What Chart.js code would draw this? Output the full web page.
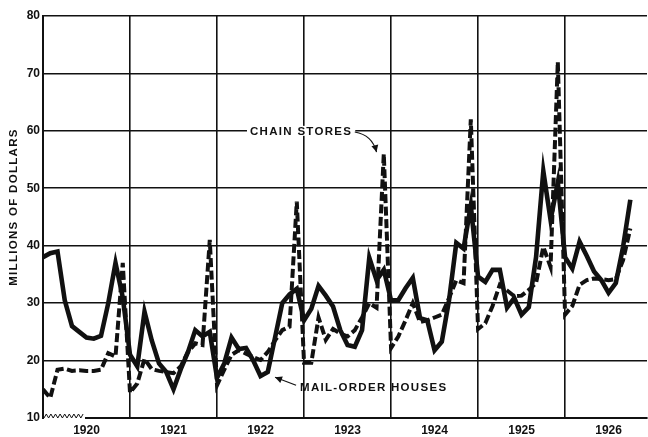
<!DOCTYPE html>
<html>
<head>
<meta charset="utf-8">
<script src="https://cdn.jsdelivr.net/npm/chart.js@4.4.1/dist/chart.umd.min.js"></script>
<style>
  html, body { margin: 0; padding: 0; background: #fff; }
  #wrap { width: 648px; height: 437px; }
</style>
</head>
<body>
<div id="wrap"><canvas id="chart"></canvas></div>
<script>
// Monthly sales, millions of dollars, Jan 1920 .. Oct 1926
const years = ['1920', '1921', '1922', '1923', '1924', '1925', '1926'];

const mailOrder = [
    38, 38.7, 39, 30.5, 26, 25, 24, 23.8, 24.3, 30, 37, 31,          // 1920
    21, 19, 28.5, 23.5, 19.5, 18, 15, 18.5, 21.5, 25.3, 24.2, 25,    // 1921
    17, 19.5, 24, 22, 22.2, 20, 17.3, 18, 24, 30, 31.5, 32.5,        // 1922
    27, 29, 33, 31.3, 29.4, 25.3, 22.7, 22.4, 25.3, 37.9, 34, 35.8,  // 1923
    30.5, 30.5, 32.6, 34.4, 27.4, 27, 21.8, 23.3, 30.5, 40.5, 39.5, 47, // 1924
    34.6, 33.7, 35.8, 35.8, 29.2, 30.9, 28, 29.3, 38, 53, 44.5, 51,  // 1925
    38, 36, 40.7, 38.2, 35.5, 34, 31.8, 33.5, 39.8, 48               // 1926
];

const chainStores = [
    15, 13.5, 18.4, 18.6, 18.2, 18.3, 18.2, 18.2, 18.4, 21.3, 20.7, 37, // 1920
    14.4, 16, 20.3, 18.5, 18.2, 18, 17.8, 19, 21.5, 23, 22.7, 41,      // 1921
    15.7, 18.4, 21, 21.8, 21.2, 20.6, 20.1, 21.5, 23.5, 25.3, 25.9, 47.7, // 1922
    19.6, 19.6, 27.5, 23.6, 25.5, 24.7, 24.2, 25.3, 27.5, 30, 29.2, 56, // 1923
    22.2, 24.2, 27, 30, 26.7, 27, 27.5, 28, 30.9, 34, 33.5, 62,        // 1924
    25.5, 26.5, 29.5, 33.2, 32.2, 31.2, 31.3, 32.3, 33.5, 39.8, 36.3, 72, // 1925
    28, 29.5, 33.2, 34, 34.3, 34.2, 34, 34.2, 37.5, 43                  // 1926
];

const yTicks = [10, 20, 30, 40, 50, 60, 70, 80];
const xTicks = [0, 6, 12, 18, 24, 30, 36, 42, 48, 54, 60, 66, 72, 78];

// label / arrow anchors in data units (month index, value)
const notes = {
    chain: { text: 'CHAIN STORES', x: 35.6, y: 60, from: [43.0, 59.8], ctrl: [45.4, 59.3], to: [46.0, 56.3] },
    mail: { text: 'MAIL-ORDER HOUSES', x: 35.45, y: 15.2, from: [34.9, 15.7], to: [32.0, 17.1] }
};

const INK = '#111';
const labelFont = "bold 11.5px 'Liberation Sans', Arial, sans-serif";

function toPoints(arr) {
    return arr.map((v, i) => ({ x: i, y: v }));
}

function arrowHead(ctx, x0, y0, x1, y1) {
    const a = Math.atan2(y1 - y0, x1 - x0);
    const len = 7, w = 3.5;
    ctx.beginPath();
    ctx.moveTo(x1, y1);
    ctx.lineTo(x1 - len * Math.cos(a) + w * Math.sin(a), y1 - len * Math.sin(a) - w * Math.cos(a));
    ctx.lineTo(x1 - len * Math.cos(a) - w * Math.sin(a), y1 - len * Math.sin(a) + w * Math.cos(a));
    ctx.closePath();
    ctx.fill();
}

const notesPlugin = {
    id: 'notes',
    afterDraw(chart) {
        const ctx = chart.ctx;
        const xs = chart.scales.x, ys = chart.scales.y;
        const area = chart.chartArea;
        const px = v => xs.getPixelForValue(v);
        const py = v => ys.getPixelForValue(v);

        ctx.save();
        ctx.fillStyle = INK;
        ctx.strokeStyle = INK;

        // axis title
        ctx.save();
        ctx.translate(14, (area.top + area.bottom) / 2 - 10);
        ctx.rotate(-Math.PI / 2);
        ctx.font = labelFont;
        ctx.letterSpacing = '1.3px';
        ctx.textAlign = 'center';
        ctx.textBaseline = 'middle';
        ctx.fillText('MILLIONS OF DOLLARS', 0, 0);
        ctx.restore();

        // axis break zigzag at the bottom left
        const zx0 = area.left + 1, zx1 = area.left + 42, zy = area.bottom;
        ctx.fillStyle = '#fff';
        ctx.fillRect(zx0, zy - 2, zx1 - zx0, 4);
        ctx.beginPath();
        ctx.lineWidth = 1;
        let up = true;
        ctx.moveTo(zx0, zy);
        for (let x = zx0 + 2.3; x <= zx1; x += 2.3) {
            ctx.lineTo(x, up ? zy - 4 : zy);
            up = !up;
        }
        ctx.stroke();

        ctx.font = labelFont;
        ctx.letterSpacing = '1.3px';
        ctx.textBaseline = 'middle';

        // chain stores label
        const c = notes.chain;
        const cw = ctx.measureText(c.text).width;
        const cx = px(c.x), cy = py(c.y);
        ctx.fillStyle = '#fff';
        ctx.fillRect(cx - cw / 2 - 3, cy - 5, cw + 6, 10);
        ctx.fillStyle = INK;
        ctx.textAlign = 'center';
        ctx.fillText(c.text, cx, cy + 1);
        ctx.lineWidth = 1.2;
        ctx.beginPath();
        ctx.moveTo(px(c.from[0]), py(c.from[1]));
        ctx.quadraticCurveTo(px(c.ctrl[0]), py(c.ctrl[1]), px(c.to[0]), py(c.to[1]));
        ctx.stroke();
        arrowHead(ctx, px(c.ctrl[0]), py(c.ctrl[1]), px(c.to[0]), py(c.to[1]));

        // mail-order label
        const m = notes.mail;
        ctx.textAlign = 'left';
        ctx.fillText(m.text, px(m.x), py(m.y));
        ctx.beginPath();
        ctx.moveTo(px(m.from[0]), py(m.from[1]));
        ctx.lineTo(px(m.to[0]), py(m.to[1]));
        ctx.stroke();
        arrowHead(ctx, px(m.from[0]), py(m.from[1]), px(m.to[0]), py(m.to[1]));

        ctx.restore();
    }
};

new Chart(document.getElementById('chart'), {
    type: 'line',
    data: {
        datasets: [
            {
                label: 'Mail-order houses',
                data: toPoints(mailOrder),
                borderColor: INK,
                borderWidth: 4.6,
                fill: false
            },
            {
                label: 'Chain stores',
                data: toPoints(chainStores),
                borderColor: INK,
                borderWidth: 4,
                borderDash: [9, 3.5],
                fill: false
            }
        ]
    },
    options: {
        responsive: true,
        maintainAspectRatio: false,
        animation: false,
        devicePixelRatio: 1,
        layout: { padding: { top: 16, right: 1, left: 0, bottom: 0 } },
        elements: {
            point: { radius: 0 },
            line: { tension: 0, borderJoinStyle: 'miter', borderCapStyle: 'butt' }
        },
        plugins: {
            legend: { display: false },
            tooltip: { enabled: false }
        },
        scales: {
            x: {
                type: 'linear',
                min: 0,
                max: 83.3,
                afterBuildTicks: s => { s.ticks = xTicks.map(v => ({ value: v })); },
                afterFit: s => { s.height = 19; },
                grid: {
                    color: ctx => (ctx.tick && ctx.tick.value % 12 === 0) ? INK : 'rgba(0,0,0,0)',
                    lineWidth: 1.6,
                    drawTicks: false
                },
                border: { display: true, color: INK, width: 2 },
                ticks: {
                    autoSkip: false,
                    maxRotation: 0,
                    padding: 5,
                    color: INK,
                    font: { family: "'Liberation Sans', Arial, sans-serif", size: 12, weight: 'bold' },
                    callback: v => (v % 12 === 6) ? years[(v - 6) / 12] : ''
                }
            },
            y: {
                min: 10,
                max: 80,
                afterBuildTicks: s => { s.ticks = yTicks.map(v => ({ value: v })); },
                afterFit: s => { s.width = 43; },
                grid: { color: INK, lineWidth: 1.6, drawTicks: false },
                border: { display: true, color: INK, width: 2 },
                ticks: {
                    padding: 3,
                    color: INK,
                    font: { family: "'Liberation Sans', Arial, sans-serif", size: 12, weight: 'bold' }
                }
            }
        }
    },
    plugins: [notesPlugin]
});
</script>
</body>
</html>
